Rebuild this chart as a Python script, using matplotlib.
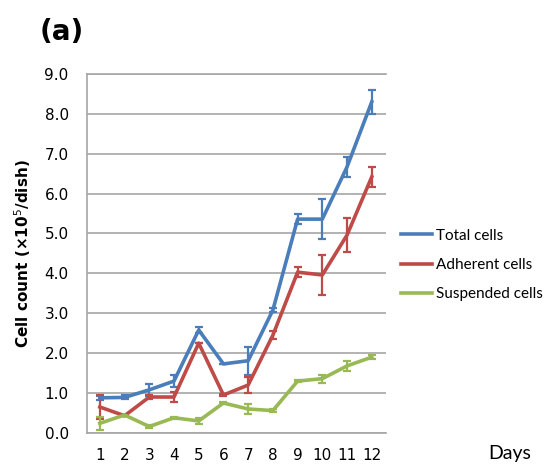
import numpy as np
import matplotlib
matplotlib.use('Agg')
import matplotlib.pyplot as plt
from matplotlib.lines import Line2D

days = np.arange(1, 13)

total = [0.88, 0.89, 1.08, 1.30, 2.58, 1.73, 1.81, 3.08, 5.36, 5.36, 6.67, 8.30]
total_err = [0.05, 0.05, 0.15, 0.15, 0.08, 0.0, 0.35, 0.05, 0.12, 0.50, 0.25, 0.30]

adherent = [0.65, 0.43, 0.90, 0.90, 2.25, 0.95, 1.20, 2.45, 4.03, 3.96, 4.96, 6.42]
adherent_err = [0.30, 0.0, 0.05, 0.12, 0.0, 0.03, 0.20, 0.10, 0.12, 0.50, 0.42, 0.25]

suspended = [0.24, 0.45, 0.16, 0.38, 0.30, 0.75, 0.60, 0.56, 1.30, 1.36, 1.68, 1.90]
suspended_err = [0.17, 0.0, 0.03, 0.03, 0.07, 0.03, 0.12, 0.03, 0.03, 0.10, 0.13, 0.05]

series = [
    ('Total cells', total, total_err, '#4a7ebb'),
    ('Adherent cells', adherent, adherent_err, '#be4b48'),
    ('Suspended cells', suspended, suspended_err, '#98b954'),
]

fig = plt.figure(figsize=(5.56, 4.65), dpi=100)
ax = fig.add_axes([0.156, 0.069, 0.538, 0.772])

for name, vals, err, col in series:
    ax.errorbar(days, vals, yerr=err, color=col, lw=2.6, elinewidth=1.6,
                capsize=3, capthick=1.6, label=name, zorder=3)

ax.set_xlim(0.47, 12.57)
ax.set_ylim(0, 9.0)
ax.set_yticks(np.arange(0, 9.01, 1.0))
ax.set_yticklabels(['%.1f' % v for v in np.arange(0, 9.01, 1.0)])
ax.set_xticks(days)
ax.tick_params(length=0, labelsize=11)
ax.tick_params(axis='y', pad=13)
ax.tick_params(axis='x', pad=11)
ax.yaxis.grid(True, color='#a6a6a6', lw=1.2, zorder=0)
for s in ['top', 'right']:
    ax.spines[s].set_visible(False)
for s in ['left', 'bottom']:
    ax.spines[s].set_color('#a6a6a6')
    ax.spines[s].set_linewidth(1.2)
ax.axhline(9.0, color='#a6a6a6', lw=1.2, zorder=0, clip_on=False)

ax.set_ylabel('Cell count (×10$^5$/dish)', fontsize=11, fontweight='bold', labelpad=8)

labels = [s[0] for s in series]
lh = [Line2D([], [], color=c, lw=2.6) for _, _, _, c in series]
fig.legend(lh, labels, loc='center left', bbox_to_anchor=(0.722, 0.43),
           frameon=False, prop={'family': 'Lato', 'size': 11},
           handlelength=2.0, handletextpad=0.25, labelspacing=1.0,
           borderaxespad=0, borderpad=0)

fig.text(0.917, 0.012, 'Days', fontsize=14, family='Lato', ha='center')
fig.text(0.072, 0.932, '(a)', fontsize=20, fontweight='bold', va='center')

fig.savefig('out.png', dpi=100)
